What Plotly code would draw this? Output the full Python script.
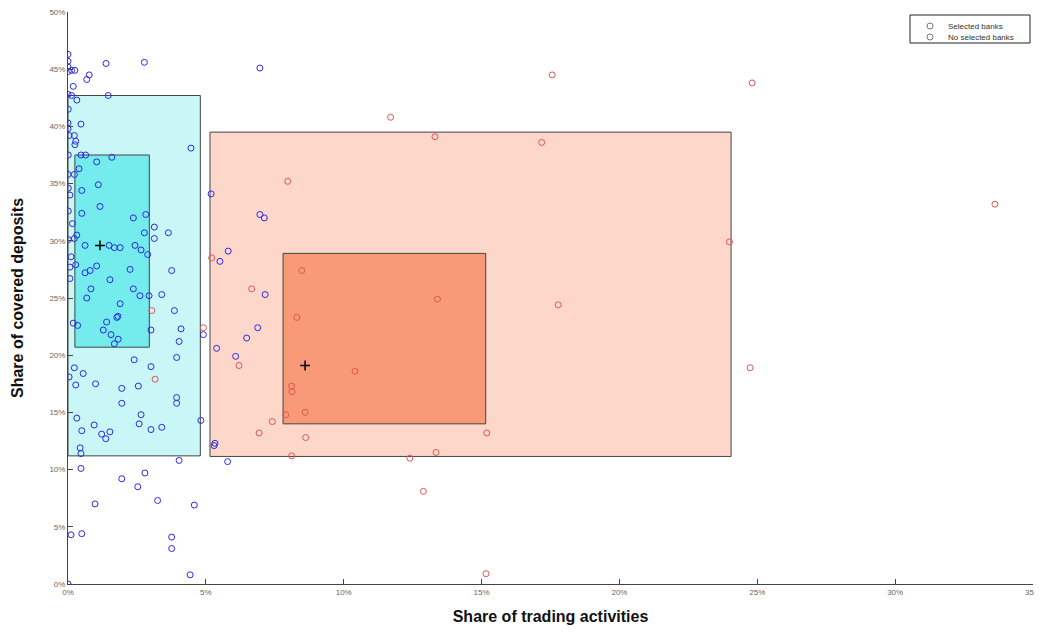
import plotly.graph_objects as go

# ---- data (values in percent) ----
blue_x = [0.0, 0.0, 0.0, 0.01, 0.13, 0.25, 1.38, 2.77, 0.77, 0.68, 0.19, 0.0, 0.13, 0.32, 1.46,
          0.01, 0.47, 0.0, 0.0, 0.04, 0.23, 0.28, 0.25, 0.01, 0.47, 0.64, 4.46, 1.59, 1.04, 0.40,
          0.0, 0.23, 1.10, 0.01, 0.50, 0.07, 0.01, 0.50, 1.16, 2.37, 2.82, 0.16, 3.13, 0.32, 0.01,
          0.23, 2.77, 3.13, 3.64, 0.62, 1.49, 1.68, 1.89, 2.43, 2.65, 2.89, 0.11, 0.07, 0.28, 1.04,
          0.80, 0.62, 2.25, 3.76, 0.07, 1.52, 0.83, 2.37, 0.68, 2.61, 2.94, 3.40, 1.89, 3.86, 1.77,
          1.81, 1.40, 0.19, 0.35, 4.10, 1.28, 3.01, 4.91, 1.56, 1.82, 4.03, 1.68, 2.40, 3.94, 0.23,
          0.55, 3.01, 0.04, 0.28, 1.00, 1.95, 2.55, 3.94, 3.94, 1.95, 0.32, 2.65, 2.58, 0.95, 0.50,
          1.22, 1.52, 1.37, 3.01, 3.40, 4.82, 0.44, 0.47, 4.03, 0.47, 1.95, 2.79, 2.53, 3.25, 0.98,
          4.58, 0.11, 0.50, 3.76, 3.76, 4.43, 0.0,
          5.19, 6.96, 7.12, 5.81, 5.51, 7.15, 5.39, 6.88, 6.48, 6.08, 5.33, 5.30, 5.79, 6.96]
blue_y = [46.3, 45.7, 45.2, 44.8, 44.9, 44.9, 45.5, 45.6, 44.5, 44.1, 43.5, 42.8, 42.7, 42.3, 42.7,
          41.5, 40.2, 40.3, 39.8, 39.2, 39.2, 38.7, 38.4, 37.5, 37.5, 37.5, 38.1, 37.3, 36.9, 36.3,
          35.8, 35.8, 34.9, 34.6, 34.4, 34.0, 32.6, 32.4, 33.0, 32.0, 32.3, 31.5, 31.2, 30.5, 30.1,
          30.2, 30.7, 30.2, 30.7, 29.6, 29.6, 29.4, 29.4, 29.6, 29.2, 28.8, 28.6, 27.7, 27.9, 27.8,
          27.4, 27.2, 27.5, 27.4, 26.7, 26.6, 25.8, 25.8, 25.0, 25.2, 25.2, 25.3, 24.5, 23.9, 23.3,
          23.4, 22.9, 22.8, 22.6, 22.3, 22.2, 22.2, 21.8, 21.8, 21.4, 21.2, 21.0, 19.6, 19.8, 18.9,
          18.4, 19.0, 18.1, 17.4, 17.5, 17.1, 17.3, 16.3, 15.8, 15.8, 14.5, 14.8, 14.0, 13.9, 13.4,
          13.1, 13.3, 12.7, 13.5, 13.7, 14.3, 11.9, 11.4, 10.8, 10.1, 9.2, 9.7, 8.5, 7.3, 7.0,
          6.9, 4.3, 4.4, 4.1, 3.1, 0.8, 0.0,
          34.1, 32.3, 32.0, 29.1, 28.2, 25.3, 20.6, 22.4, 21.5, 19.9, 12.3, 12.1, 10.7, 45.1]

red_x = [3.16, 3.04, 4.91, 5.21, 7.97, 6.66, 6.20, 8.48, 8.30, 8.11, 8.12, 7.90, 8.60, 7.41,
         6.93, 8.62, 8.11, 11.70, 13.31, 17.18, 23.99, 13.40, 17.78, 10.41, 24.74, 15.19, 13.35,
         12.40, 12.89, 15.16, 17.56, 24.81, 33.62]
red_y = [17.9, 23.9, 22.4, 28.5, 35.2, 25.8, 19.1, 27.4, 23.3, 17.3, 16.8, 14.8, 15.0, 14.2,
         13.2, 12.8, 11.2, 40.8, 39.1, 38.6, 29.9, 24.9, 24.4, 18.6, 18.9, 13.2, 11.5,
         11.0, 8.1, 0.9, 44.5, 43.8, 33.2]

# boxes: [x0, x1, y0, y1]
box_x0 = [0.0, 0.25, 5.15, 7.8]
box_x1 = [4.8, 2.95, 24.05, 15.15]
box_y0 = [11.2, 20.7, 11.15, 14.0]
box_y1 = [42.7, 37.5, 39.5, 28.9]
box_fill = ["#c9f6f6", "#74ebec", "#fdd7ca", "#f89a77"]

centroid_x = [1.16, 8.6]
centroid_y = [29.6, 19.1]

x_ticks = [0, 5, 10, 15, 20, 25, 30, 35]
x_labels = ["0%", "5%", "10%", "15%", "20%", "25%", "30%", "35%"]
y_ticks = [0, 5, 10, 15, 20, 25, 30, 35, 40, 45, 50]
y_labels = ["0%", "5%", "10%", "15%", "20%", "25%", "30%", "35%", "40%", "45%", "50%"]
legend_names = ["Selected banks", "No selected banks"]

fig = go.Figure()

for x0, x1, y0, y1, c in zip(box_x0, box_x1, box_y0, box_y1, box_fill):
    fig.add_shape(type="rect", xref="x", yref="y", x0=x0, x1=x1, y0=y0, y1=y1,
                  fillcolor=c, line=dict(color="#444444", width=1), layer="below")

fig.add_trace(go.Scatter(x=blue_x, y=blue_y, mode="markers", showlegend=False,
                         marker=dict(symbol="circle-open", size=6, color="#2a2ae6",
                                     line=dict(width=1))))
fig.add_trace(go.Scatter(x=red_x, y=red_y, mode="markers", showlegend=False,
                         marker=dict(symbol="circle-open", size=6, color="#e05555",
                                     line=dict(width=1))))
fig.add_trace(go.Scatter(x=centroid_x, y=centroid_y, mode="markers", showlegend=False,
                         marker=dict(symbol="cross-thin-open", size=7, color="#000000",
                                     line=dict(width=1.5, color="#000000"))))

# ---- compact legend box (paper coordinates) ----
W, H = 1042, 617
ML, MR, MT, MB = 60, 17, 4, 41
PW, PH = W - ML - MR, H - MT - MB


def px(fx):
    return (fx - ML) / PW


def py(fy):
    return (H - MB - fy) / PH


fig.add_shape(type="rect", xref="paper", yref="paper", x0=px(902), x1=px(1022),
              y0=py(35), y1=py(7), line=dict(color="#222222", width=1),
              fillcolor="white", layer="above")
entry_y = [18, 29]
for name, ey in zip(legend_names, entry_y):
    fig.add_shape(type="circle", xref="paper", yref="paper",
                  x0=px(919), x1=px(925), y0=py(ey + 3), y1=py(ey - 3),
                  line=dict(color="#777777", width=1), layer="above")
    fig.add_annotation(x=px(938), y=py(ey), xref="paper", yref="paper", text=name,
                       showarrow=False, xanchor="left", yanchor="middle",
                       font=dict(family="Liberation Sans, Arial", size=8, color="#333333"))

axis_common = dict(showgrid=False, zeroline=False, showline=True, linecolor="#444444",
                   linewidth=1, ticks="inside", ticklen=5, tickcolor="#444444",
                   tickfont=dict(family="Liberation Sans, Arial", size=8, color="#666666"),
                   automargin=False, ticklabeloverflow="allow")

fig.update_xaxes(range=[0, 35], tickmode="array", tickvals=x_ticks, ticktext=x_labels,
                 **axis_common,
                 title=dict(text="<b>Share of trading activities</b>", standoff=16,
                            font=dict(family="Liberation Sans, Arial", size=16, color="#111111")))
fig.update_yaxes(range=[0, 50], tickmode="array", tickvals=y_ticks, ticktext=y_labels,
                 **axis_common,
                 title=dict(text="<b>Share of covered deposits</b>", standoff=21,
                            font=dict(family="Liberation Sans, Arial", size=16, color="#111111")))

fig.update_layout(
    width=W, height=H,
    margin=dict(l=ML, r=MR, t=MT, b=MB),
    paper_bgcolor="white", plot_bgcolor="white",
    showlegend=False,
)

fig.write_html("out.html")
